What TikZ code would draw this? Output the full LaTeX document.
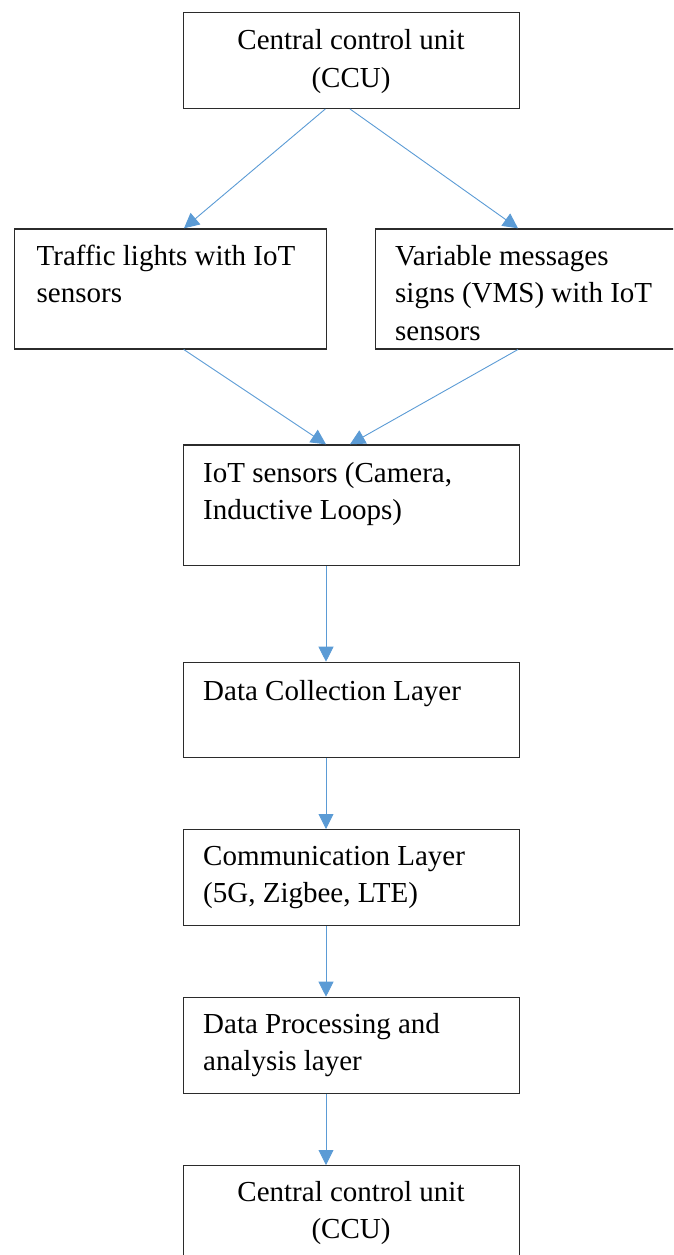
\documentclass[tikz,border=0pt]{standalone}
\usepackage{fontspec}
\setmainfont{Liberation Serif}
\usetikzlibrary{arrows.meta,calc}
\definecolor{arrowblue}{HTML}{5B9BD5}
\definecolor{boxline}{HTML}{2B2B2B}
\tikzset{
  box/.style={draw=boxline,line width=1.2pt,anchor=north west,inner sep=0pt,minimum width=#1},
  txt/.style={inner sep=0pt,font=\fontsize{29}{37.5}\selectfont,text=black},
  conn/.style={draw=arrowblue,line width=0.9pt,-{Triangle[width=15pt,length=15pt]}}
}
\begin{document}
\begin{tikzpicture}[x=1pt,y=-1pt]
\useasboundingbox (0,0) rectangle (673,1255);
\clip (0,0) rectangle (673,1255);
% boxes
\node[box=336pt,minimum height=95.5pt] (b1) at (182.7,12.3) {};
\node[box=312pt,minimum height=120pt] (b2) at (14.2,228.3) {};
\node[box=320pt,minimum height=120pt] (b3) at (375,228.3) {};
\node[box=336pt,minimum height=120.5pt] (b4) at (182.7,444.3) {};
\node[box=336pt,minimum height=95pt] (b5) at (182.7,661.7) {};
\node[box=336pt,minimum height=96pt] (b6) at (182.7,829) {};
\node[box=336pt,minimum height=96pt] (b7) at (182.7,996.7) {};
\node[box=336pt,minimum height=110pt] (b8) at (182.7,1165) {};
% texts
\node[txt,anchor=base] (t1a) at (351,50) {Central control unit};
\node[txt,anchor=base] (t1b) at (351,87.3) {(CCU)};
\node[txt,anchor=base west] (t2a) at (36.5,265) {Traffic lights with IoT};
\node[txt,anchor=base west] (t2b) at (36.5,302.5) {sensors};
\node[txt,anchor=base west] (t3a) at (395,265) {Variable messages};
\node[txt,anchor=base west] (t3b) at (395,302.5) {signs (VMS) with IoT};
\node[txt,anchor=base west] (t3c) at (395,340) {sensors};
\node[txt,anchor=base west] (t4a) at (203,482) {IoT sensors (Camera,};
\node[txt,anchor=base west] (t4b) at (203,519.5) {Inductive Loops)};
\node[txt,anchor=base west] (t5a) at (203,700) {Data Collection Layer};
\node[txt,anchor=base west] (t6a) at (203,865) {Communication Layer};
\node[txt,anchor=base west] (t6b) at (203,902.5) {(5G, Zigbee, LTE)};
\node[txt,anchor=base west] (t7a) at (203,1033) {Data Processing and};
\node[txt,anchor=base west] (t7b) at (203,1070.5) {analysis layer};
\node[txt,anchor=base] (t8a) at (351,1201.7) {Central control unit};
\node[txt,anchor=base] (t8b) at (351,1238.5) {(CCU)};
% connectors
\draw[conn] ($(b1.south west)+(142.6,0)$) -- ($(b2.north west)+(169.8,0)$);
\draw[conn] ($(b1.south west)+(167.3,0)$) -- ($(b3.north west)+(143,0)$);
\draw[conn] ($(b2.south west)+(169.5,0)$) -- ($(b4.north west)+(143.3,0)$);
\draw[conn] ($(b3.south west)+(143,0)$) -- ($(b4.north west)+(167.3,0)$);
\draw[conn] ($(b4.south west)+(143.3,0)$) -- ($(b5.north west)+(143.3,0)$);
\draw[conn] ($(b5.south west)+(143.3,0)$) -- ($(b6.north west)+(143.3,0)$);
\draw[conn] ($(b6.south west)+(143.3,0)$) -- ($(b7.north west)+(143.3,0)$);
\draw[conn] ($(b7.south west)+(143.3,0)$) -- ($(b8.north west)+(143.3,0)$);
\end{tikzpicture}
\end{document}
